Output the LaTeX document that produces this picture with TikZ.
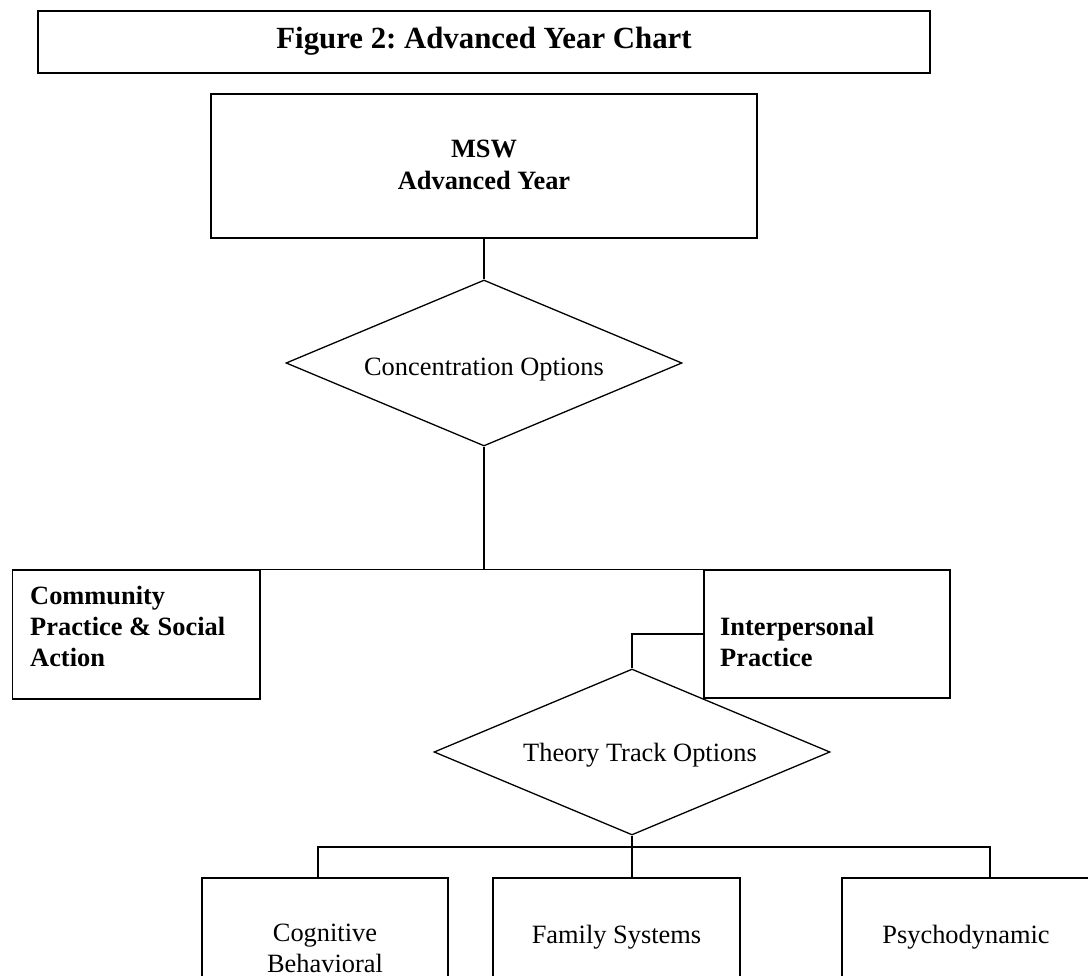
\documentclass[tikz,border=0pt]{standalone}
\usepackage{fontspec}
\setmainfont{Liberation Serif}
\usetikzlibrary{shapes.geometric}
\frenchspacing
\begin{document}
\begin{tikzpicture}[x=1pt,y=-1pt,
  box/.style={draw, line width=1.5pt, inner sep=0pt, minimum width=#1},
  dia/.style={draw, diamond, line width=1.3pt, inner sep=0pt, minimum width=396pt, minimum height=166pt},
  conn/.style={draw, line width=1.3pt},
  txt/.style={inner sep=0pt, align=center, font=\fontsize{26.4}{31}\selectfont},
  btxt/.style={inner sep=0pt, align=center, font=\fontsize{26.4}{32}\selectfont\bfseries},
  ltxt/.style={inner sep=0pt, align=left, font=\fontsize{26.4}{31}\selectfont\bfseries},
  ttxt/.style={inner sep=0pt, align=center, font=\fontsize{30.8}{36}\selectfont\bfseries}
]
\clip (0,0) rectangle (1088,976);
\fill[white] (0,0) rectangle (1088,976);

% title
\node[box=892pt, minimum height=62pt] (title) at (484,42) {};
\node[ttxt] (titletext) at (484,41.7) {Figure 2: Advanced Year Chart};

% MSW box
\node[box=546pt, minimum height=144pt] (msw) at (484,166) {};
\node[btxt] (mswtext) at (484,165) {MSW\\Advanced Year};

% concentration diamond
\node[dia] (conc) at (484,363) {};
\node[txt] (conctext) at (484,370) {Concentration Options};

% concentration boxes
\node[box=247.5pt, minimum height=129pt] (comm) at (136.25,634.5) {};
\node[ltxt, anchor=west] (commtext) at (30,626.5) {Community\\Practice \& Social\\Action};
\node[box=246pt, minimum height=128pt] (ip) at (827,634) {};
\node[ltxt, anchor=west] (iptext) at (720,642) {Interpersonal\\Practice};

% theory diamond
\node[dia] (theory) at (632,752) {};
\node[txt] (theorytext) at (640,755) {Theory Track Options};

% bottom boxes
\node[box=246pt, minimum height=132pt] (cog) at (325,944) {};
\node[txt] (cogtext) at (325,948) {Cognitive\\Behavioral};
\node[box=247pt, minimum height=132pt] (fam) at (616.5,944) {};
\node[txt] (famtext) at (616.5,937) {Family Systems};
\node[box=253pt, minimum height=132pt] (psy) at (968.5,944) {};
\node[txt] (psytext) at (966,937) {Psychodynamic};

% connectors
\draw[conn] (msw.south) -- (conc.north);
\draw[conn] (conc.south) -- (conc.south |- comm.north);
\draw[conn] (comm.north west) -- (ip.north east);
\draw[conn] (ip.west) -| (theory.north);

\coordinate (bl) at (318,847);
\coordinate (br) at (990,847);
\draw[conn] (theory.south) -- (theory.south |- fam.north);
\draw[conn] (bl |- cog.north) -- (bl) -- (br) -- (br |- psy.north);
\end{tikzpicture}
\end{document}
